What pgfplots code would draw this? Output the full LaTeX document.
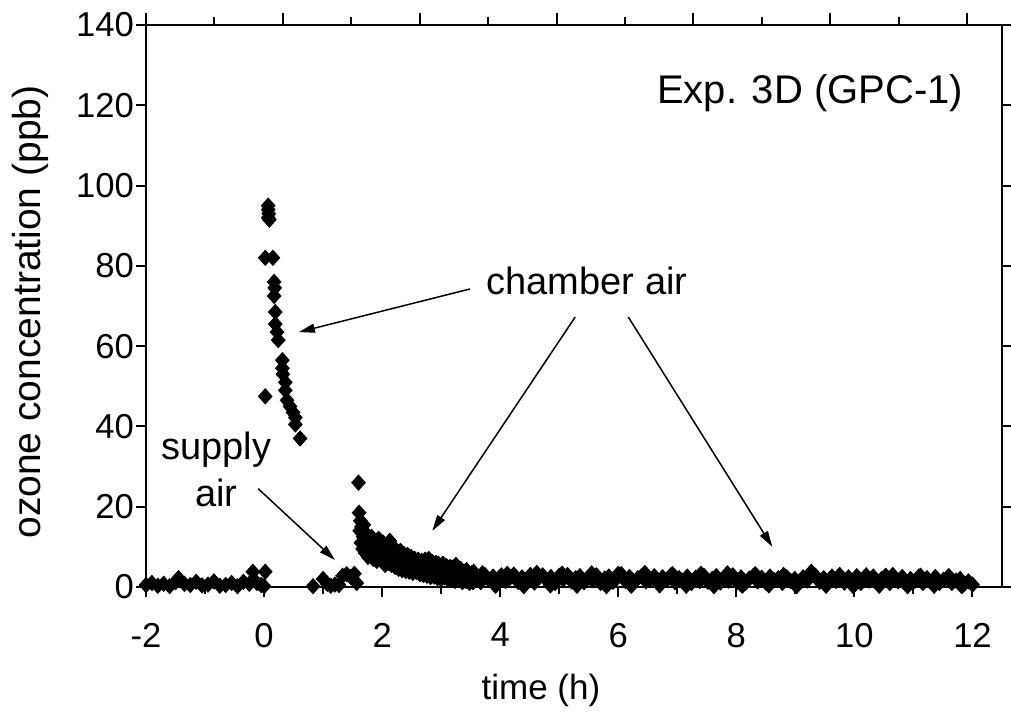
\documentclass[border=0pt]{standalone}
\usepackage{pgfplots}
\pgfplotsset{compat=1.18}
\usepackage{fontspec}
\setmainfont{Liberation Sans}
\usetikzlibrary{arrows.meta}
\newcommand\fs{\fontsize{17.3}{20}\selectfont}
\newcommand\fa{\fontsize{19}{23}\selectfont}
\begin{document}
\begin{tikzpicture}
\useasboundingbox (0,0) rectangle (505.5pt,359.5pt);
\begin{axis}[
  at={(73pt,66pt)}, anchor=south west, scale only axis,
  width=428pt, height=281pt,
  xmin=-2, xmax=12.5, ymin=0, ymax=140,
  xtick={-2,0,...,12}, xticklabels={-2,0,2,4,6,8,10,12},
  minor xtick={-1,1,...,11},
  ytick={0,20,...,140}, yticklabels={0,20,40,60,80,100,120,140},
  xtick pos=left, ytick pos=both,
  tick align=outside,
  major tick length=5pt, minor tick length=3.5pt,
  axis line style={line width=1pt},
  every tick/.style={black, line width=1pt},
  ticklabel style={font=\fs},
  xticklabel style={yshift=-9.5pt},
  yticklabel style={xshift=2.5pt},
  label style={font=\fontsize{17.5}{20}\selectfont},
  xlabel={time (h)},
  xlabel style={at={(rel axis cs:0.4614,0)}, anchor=center, yshift=-51.5pt},
  ylabel={ozone concentration (ppb)},
  ylabel style={at={([xshift=-58pt,yshift=-3pt]rel axis cs:0,0.5)}, anchor=center, font=\fontsize{19.5}{22}\selectfont},
  clip=false,
]
\addplot[only marks, mark=diamond*, mark size=3.8pt, mark options={xscale=1.2, fill=black, draw=black}] table {
x y
-2.00 0.5
-1.90 1.0
-1.80 0.3
-1.70 0.8
-1.60 0.2
-1.50 1.2
-1.45 2.2
-1.35 0.8
-1.25 0.5
-1.15 1.3
-1.05 0.4
-0.95 0.6
-0.85 1.4
-0.75 0.3
-0.65 0.5
-0.55 1.0
-0.45 0.2
-0.35 1.3
-0.25 0.8
-0.19 3.8
-0.12 1.0
-0.05 0.5
0.00 0.2
0.02 3.8
0.02 47.5
0.07 95.0
0.07 94.0
0.08 93.0
0.07 92.0
0.09 91.5
0.02 82.0
0.15 82.0
0.17 76.0
0.18 74.5
0.17 72.5
0.19 68.5
0.19 65.5
0.22 63.5
0.24 61.5
0.31 56.5
0.31 54.5
0.32 53.0
0.36 51.0
0.36 49.0
0.39 46.5
0.44 45.0
0.49 43.5
0.53 42.2
0.53 40.5
0.61 37.0
0.83 0.2
1.00 2.0
1.07 0.8
1.13 0.3
1.20 0.6
1.27 0.5
1.33 2.8
1.40 3.2
1.47 2.5
1.53 3.3
1.57 1.0
1.60 26.0
1.61 18.5
1.63 16.5
1.65 15.0
1.66 13.8
1.68 12.5
1.70 11.8
1.72 10.5
1.74 12.0
1.76 7.5
1.78 9.5
1.80 11.0
1.83 10.0
1.86 9.0
1.89 11.5
1.92 10.2
1.95 8.5
1.97 11.5
2.00 9.0
2.03 7.5
2.05 5.5
2.08 8.0
2.11 10.5
2.14 9.8
2.17 8.2
2.20 7.0
2.23 9.0
2.26 6.5
2.29 8.0
2.32 5.5
2.35 7.5
2.38 6.0
2.41 7.2
2.44 5.0
2.47 6.8
2.50 5.8
2.53 4.5
2.56 6.5
2.59 5.2
2.62 4.2
2.65 6.0
2.68 5.0
2.71 3.8
2.74 5.5
2.77 4.6
2.80 6.5
2.83 4.0
2.86 5.2
2.89 3.5
2.92 4.8
2.95 5.8
2.98 3.2
3.01 4.5
3.04 3.8
3.07 5.0
3.10 2.8
3.13 4.2
3.16 3.5
3.19 4.8
3.22 2.5
3.25 5.5
3.28 3.0
3.31 4.0
3.34 2.2
3.37 3.6
3.40 2.8
3.43 4.2
3.46 1.8
3.49 3.2
3.52 2.5
3.55 3.8
1.62 14.0
1.64 11.0
1.67 9.5
1.69 15.5
1.71 8.5
1.75 13.0
1.79 8.0
1.82 12.5
1.85 7.0
1.88 8.0
1.91 6.5
1.94 12.0
1.99 6.5
2.02 11.0
2.06 10.0
2.10 6.0
2.13 11.5
2.16 5.5
2.19 10.0
2.22 5.0
2.25 8.5
2.28 4.5
2.31 9.0
2.34 4.2
2.37 8.2
2.40 4.0
2.43 8.0
2.46 3.8
2.49 7.5
2.52 3.5
2.55 7.0
2.58 3.8
2.61 6.8
2.64 3.2
2.67 6.5
2.70 3.0
2.73 6.8
2.76 2.8
2.79 7.0
2.82 2.5
2.85 6.2
2.88 2.6
2.91 6.0
2.94 2.2
2.97 5.5
3.00 2.0
3.03 5.8
3.06 2.4
3.09 5.2
3.12 1.8
3.15 5.0
3.18 2.0
3.21 4.6
3.24 1.5
3.27 4.4
3.30 1.8
3.33 4.5
3.36 1.2
3.39 3.8
3.42 1.5
3.45 3.5
3.48 1.0
3.51 3.4
3.54 1.2
3.60 2.5
3.67 1.2
3.74 3.0
3.81 1.8
3.88 2.6
3.95 1.0
4.02 2.9
4.09 1.5
4.16 2.2
4.23 3.1
4.30 1.3
4.37 2.4
4.44 1.8
4.51 3.0
4.58 1.1
4.65 2.3
4.72 2.9
4.79 1.6
4.86 2.5
4.93 1.0
5.00 2.8
5.07 1.9
5.14 3.0
5.21 1.4
5.28 2.2
5.35 2.7
5.42 1.2
5.49 2.4
5.56 1.7
5.63 2.9
5.70 1.0
5.77 2.1
5.84 2.6
5.91 1.3
5.98 2.3
6.05 3.2
6.12 1.5
6.19 2.5
6.26 1.0
6.33 2.2
6.40 2.8
6.47 1.4
6.54 2.0
6.61 2.7
6.68 1.1
6.75 2.4
6.82 1.8
6.89 2.9
6.96 1.2
7.03 2.2
7.10 1.6
7.17 2.6
7.24 1.0
7.31 2.3
7.38 1.5
7.45 2.8
7.52 1.3
7.59 2.0
7.66 2.7
7.73 1.1
7.80 2.2
7.87 1.6
7.94 2.9
8.01 1.2
8.08 2.4
8.15 1.0
8.22 2.1
8.29 2.8
8.36 1.4
8.43 2.3
8.50 1.1
8.57 2.6
8.64 1.7
8.71 2.2
8.78 1.0
8.85 2.5
8.92 1.5
8.99 2.0
9.06 1.2
9.13 2.4
9.20 1.6
9.27 3.8
9.34 2.8
9.41 1.3
9.48 2.2
9.55 1.0
9.62 2.6
9.69 1.5
9.76 2.0
9.83 1.1
9.90 2.4
9.97 1.3
10.04 2.7
10.11 1.0
10.18 2.3
10.25 1.6
10.32 2.6
10.39 1.2
10.46 2.0
10.53 2.8
10.60 1.0
10.67 2.2
10.74 1.4
10.81 2.5
10.88 1.1
10.95 2.0
11.02 1.5
11.09 2.6
11.16 1.0
11.23 2.2
11.30 1.3
11.37 2.5
11.44 1.0
11.51 1.8
11.58 2.4
11.65 1.0
11.72 1.6
11.79 2.0
11.86 0.8
11.93 1.4
12.00 0.6
3.70 3.4
3.92 0.3
4.12 3.3
4.40 0.2
4.62 3.5
4.85 0.4
5.05 3.3
5.30 0.3
5.55 3.4
5.80 0.2
6.00 3.3
6.22 0.3
6.45 3.5
6.70 0.4
6.92 3.2
7.15 0.3
7.40 3.3
7.62 0.2
7.85 3.4
8.10 0.3
8.32 3.2
8.55 0.4
8.80 3.0
9.02 0.2
9.30 3.0
9.52 0.3
9.75 3.0
9.98 0.2
10.20 2.9
10.42 0.3
10.65 3.0
10.90 0.2
11.12 2.8
11.35 0.3
11.60 2.7
11.82 0.2
};
\node[font=\fontsize{20}{24}\selectfont] at (axis cs:9.25,123) {Exp. 3D (GPC-1)};
\node[font=\fa] at (axis cs:5.47,76.25) {chamber air};
\node[font=\fontsize{19}{23.5}\selectfont, align=center] at (axis cs:-0.81,29.25) {supply\\air};
\draw[line width=0.75pt, -{Triangle[length=8pt,width=4.5pt]}] (axis cs:3.49,74.25) -- (axis cs:0.59,63.5);
\draw[line width=0.75pt, -{Triangle[length=8pt,width=4.5pt]}] (axis cs:5.27,67.25) -- (axis cs:2.85,14);
\draw[line width=0.75pt, -{Triangle[length=8pt,width=4.5pt]}] (axis cs:6.17,67.25) -- (axis cs:8.61,10);
\draw[line width=0.75pt, -{Triangle[length=8pt,width=4.5pt]}] (axis cs:-0.10,24.5) -- (axis cs:1.20,6.75);
\end{axis}
\begin{axis}[
  at={(73pt,66pt)}, anchor=south west, scale only axis,
  width=428pt, height=281pt,
  xmin=0, xmax=12.51, ymin=0, ymax=1,
  axis x line*=top, axis y line=none,
  xtick={0,2,...,12}, minor xtick={1,3,...,11}, xticklabels={},
  tick align=outside,
  major tick length=6pt, minor tick length=4pt,
  axis line style={line width=1pt, -},
  every tick/.style={black, line width=1pt},
]
\end{axis}
\end{tikzpicture}
\end{document}
